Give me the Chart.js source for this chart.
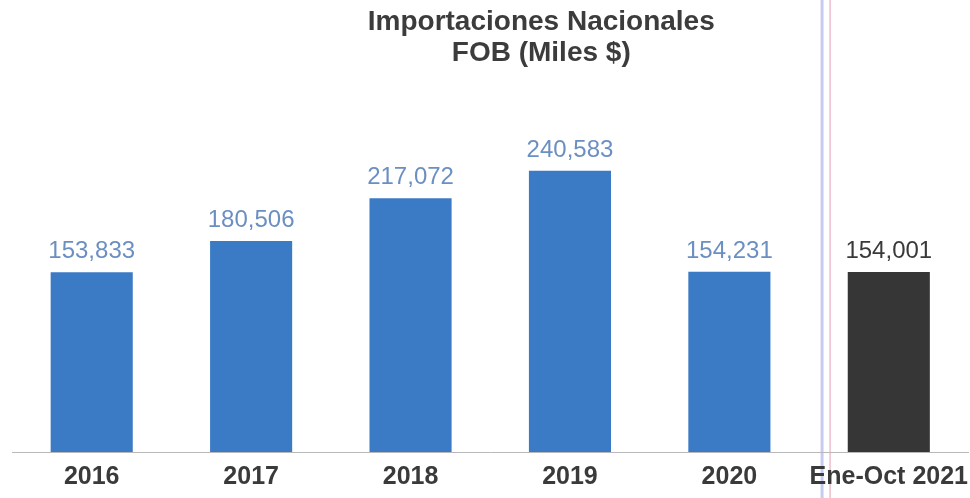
<!DOCTYPE html>
<html>
<head>
<meta charset="utf-8">
<script src="https://cdn.jsdelivr.net/npm/chart.js@4/dist/chart.umd.min.js"></script>
<style>
  body { margin: 0; background: #fff; }
  canvas { display: block; }
</style>
</head>
<body>
<canvas id="importaciones" width="970" height="498"></canvas>
<script>
var years = ['2016', '2017', '2018', '2019', '2020', 'Ene-Oct 2021'];
var fobMiles = [153833, 180506, 217072, 240583, 154231, 154001];
var barColors = ['#3b7ac5', '#3b7ac5', '#3b7ac5', '#3b7ac5', '#3b7ac5', '#363636'];
var labelColors = ['#6b8fc2', '#6b8fc2', '#6b8fc2', '#6b8fc2', '#6b8fc2', '#3a3a3a'];
var titleLines = ['Importaciones Nacionales', 'FOB (Miles $)'];

// value above each bar
var valueLabels = {
    id: 'valueLabels',
    afterDatasetsDraw: function (chart) {
        var ctx = chart.ctx;
        var meta = chart.getDatasetMeta(0);
        ctx.save();
        ctx.font = '24px "Liberation Sans", Arial, sans-serif';
        ctx.textAlign = 'center';
        ctx.textBaseline = 'alphabetic';
        meta.data.forEach(function (bar, i) {
            ctx.fillStyle = labelColors[i];
            ctx.fillText(fobMiles[i].toLocaleString('en-US'), bar.x, bar.y - 14);
        });
        ctx.restore();
    }
};

// two-line heading, sitting a bit right of centre
var heading = {
    id: 'heading',
    afterDraw: function (chart) {
        var ctx = chart.ctx;
        var cx = chart.width * 0.558;
        ctx.save();
        ctx.font = 'bold 28px "Liberation Sans", Arial, sans-serif';
        ctx.fillStyle = '#3c3c3c';
        ctx.textAlign = 'center';
        ctx.textBaseline = 'middle';
        ctx.fillText(titleLines[0], cx, 22);
        ctx.fillText(titleLines[1], cx, 53);
        ctx.restore();
    }
};

// page divider running top to bottom
var divider = {
    id: 'divider',
    beforeDraw: function (chart) {
        var ctx = chart.ctx;
        var x = chart.width * 0.8475;
        ctx.save();
        ctx.strokeStyle = 'rgba(175, 180, 235, 0.7)';
        ctx.lineWidth = 3;
        ctx.beginPath();
        ctx.moveTo(x, 0);
        ctx.lineTo(x, chart.height);
        ctx.stroke();
        ctx.strokeStyle = 'rgba(220, 120, 150, 0.7)';
        ctx.lineWidth = 1;
        ctx.beginPath();
        ctx.moveTo(x + 8, 0);
        ctx.lineTo(x + 8, chart.height);
        ctx.stroke();
        ctx.restore();
    }
};

var ctx = document.getElementById('importaciones').getContext('2d');
var chart = new Chart(ctx, {
    type: 'bar',
    data: {
        labels: years,
        datasets: [{
            data: fobMiles,
            backgroundColor: barColors,
            borderWidth: 0,
            barPercentage: 0.515,
            categoryPercentage: 1
        }]
    },
    options: {
        responsive: false,
        animation: false,
        devicePixelRatio: 1,
        layout: {
            padding: { top: 148, left: 12, right: 0, bottom: 4 }
        },
        plugins: {
            legend: { display: false },
            tooltip: { enabled: false }
        },
        scales: {
            x: {
                grid: { display: false },
                border: { display: true, color: '#b9b9b9', width: 1 },
                ticks: {
                    padding: 2,
                    maxRotation: 0,
                    minRotation: 0,
                    autoSkip: false,
                    color: '#3a3a3a',
                    font: { family: '"Liberation Sans", Arial, sans-serif', size: 25, weight: 'bold' }
                }
            },
            y: {
                display: false,
                min: 0,
                max: 260000
            }
        }
    },
    plugins: [divider, valueLabels, heading]
});
</script>
</body>
</html>
